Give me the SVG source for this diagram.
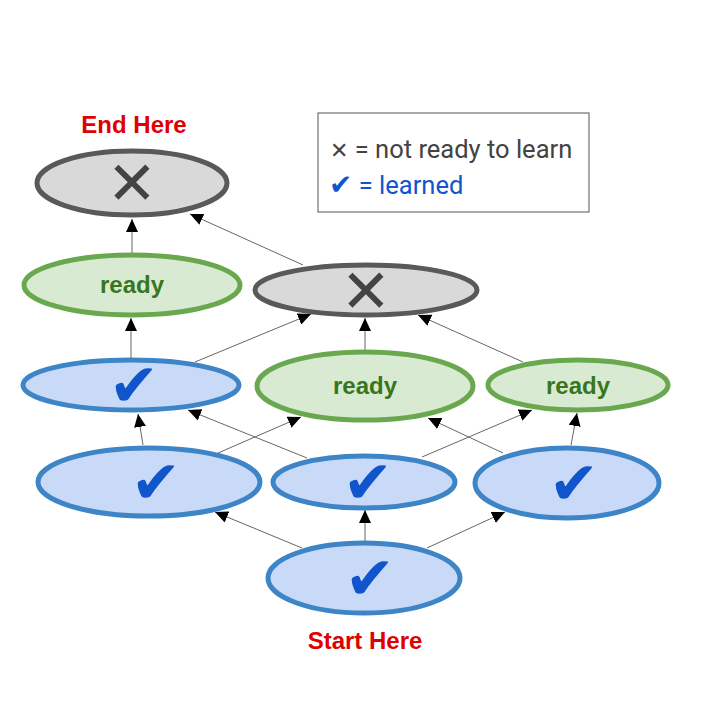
<svg xmlns="http://www.w3.org/2000/svg" width="720" height="720" viewBox="0 0 720 720">
<style>
.blue{fill:#c9daf8;stroke:#3d85c6;stroke-width:5}
.green{fill:#d9ead3;stroke:#6aa84f;stroke-width:5}
.gray{fill:#d9d9d9;stroke:#595959;stroke-width:5}
.chk{font-family:"DejaVu Sans",sans-serif;font-size:60px;fill:#1155cc;text-anchor:middle}
.x{font-family:"DejaVu Sans",sans-serif;font-size:60px;fill:#434343;text-anchor:middle;font-weight:bold}
.rdy{font-family:"Liberation Sans",Arial,sans-serif;font-size:24px;font-weight:bold;fill:#38761d;text-anchor:middle}
.red{font-family:"Liberation Sans",Arial,sans-serif;font-size:24px;font-weight:bold;fill:#e00000;text-anchor:middle}
.edge{stroke:#666;stroke-width:1;fill:none;marker-end:url(#ah)}
.leg{font-family:Roboto,"Liberation Sans",sans-serif;font-size:25.5px}
</style>
<defs>
<marker id="ah" markerUnits="userSpaceOnUse" markerWidth="14" markerHeight="12" refX="13" refY="6" orient="auto">
<path d="M0,0 L13,6 L0,12 z" fill="#000"/>
</marker>
</defs>
<rect width="720" height="720" fill="#fff"/>
<g id="connectors">
<line class="edge" x1="132" y1="253" x2="132" y2="219"/>
<line class="edge" x1="303" y1="265" x2="190" y2="214"/>
<line class="edge" x1="131" y1="358" x2="131" y2="318"/>
<line class="edge" x1="195" y1="362" x2="311" y2="314"/>
<line class="edge" x1="365" y1="350" x2="365" y2="318"/>
<line class="edge" x1="523" y1="362" x2="418" y2="315"/>
<line class="edge" x1="143" y1="445" x2="138" y2="414"/>
<line class="edge" x1="218" y1="453" x2="301" y2="417"/>
<line class="edge" x1="307" y1="458" x2="188" y2="410"/>
<line class="edge" x1="422" y1="457" x2="532" y2="410"/>
<line class="edge" x1="503" y1="453" x2="428" y2="418"/>
<line class="edge" x1="571" y1="445" x2="577" y2="413"/>
<line class="edge" x1="302" y1="548" x2="215" y2="512"/>
<line class="edge" x1="365" y1="542" x2="365" y2="510"/>
<line class="edge" x1="427" y1="548" x2="505" y2="512"/>
</g>
<g id="end"><ellipse class="gray" cx="132" cy="183" rx="95" ry="32"/><text class="x" x="132" y="204">✕</text></g>
<g id="ready-left"><ellipse class="green" cx="132" cy="285" rx="108" ry="30"/><text class="rdy" x="132" y="293">ready</text></g>
<g id="x-mid"><ellipse class="gray" cx="366" cy="290" rx="111" ry="25"/><text class="x" x="366" y="312">✕</text></g>
<g id="chk-l3"><ellipse class="blue" cx="131" cy="385" rx="108" ry="25"/><text class="chk" x="134" y="406">✔</text></g>
<g id="ready-mid"><ellipse class="green" cx="365" cy="386" rx="108" ry="34"/><text class="rdy" x="365" y="394">ready</text></g>
<g id="ready-right"><ellipse class="green" cx="578" cy="385" rx="90" ry="25"/><text class="rdy" x="578" y="394">ready</text></g>
<g id="chk-l4"><ellipse class="blue" cx="149" cy="482" rx="111" ry="34"/><text class="chk" x="156" y="503">✔</text></g>
<g id="chk-m4"><ellipse class="blue" cx="364" cy="482" rx="91" ry="26"/><text class="chk" x="368" y="503">✔</text></g>
<g id="chk-r4"><ellipse class="blue" cx="567" cy="483" rx="92" ry="35"/><text class="chk" x="574" y="504">✔</text></g>
<g id="start"><ellipse class="blue" cx="364" cy="578" rx="96" ry="35"/><text class="chk" x="370" y="599">✔</text></g>
<text class="red" x="134" y="133">End Here</text>
<text class="red" x="365" y="649">Start Here</text>
<g id="legend">
<rect x="318" y="113" width="271" height="99" fill="#fff" stroke="#555" stroke-width="1"/>
<text class="leg" x="330" y="158" fill="#434343"><tspan font-family="DejaVu Sans,sans-serif" font-size="22" font-weight="bold">✕</tspan> = not ready to learn</text>
<text class="leg" x="329" y="194" fill="#1155cc"><tspan font-family="DejaVu Sans,sans-serif" font-size="28">✔</tspan> = learned</text>
</g>
</svg>
